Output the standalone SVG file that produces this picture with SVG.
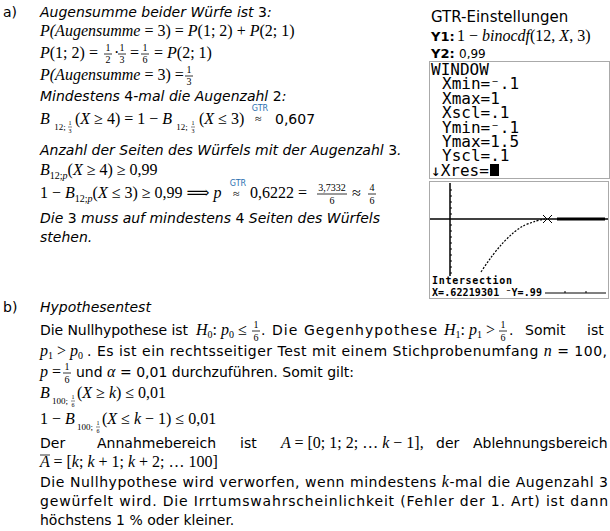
<svg xmlns="http://www.w3.org/2000/svg" width="610" height="531" viewBox="0 0 610 531">
<style>
.t{font-family:"DejaVu Sans",Verdana,sans-serif;font-size:14px;fill:#000}
.i{font-style:italic}
.m{font-family:"Liberation Serif","DejaVu Serif",serif;font-size:16px;font-style:italic;fill:#000}
.n{font-style:normal}
.f{font-family:"Liberation Serif",serif;font-size:10px;fill:#000;text-anchor:middle}
.g{font-family:"DejaVu Sans",sans-serif;font-size:8px;fill:#2a6fb0;text-anchor:middle}
.c{font-family:"DejaVu Sans Mono","Liberation Mono",monospace;font-size:16px;fill:#000}
.fl{stroke:#000;stroke-width:0.8}
</style>
<rect width="610" height="531" fill="#fff"/>
<g id="part-a">
<text class="t" x="3" y="17">a)</text>
<text class="t i" x="40" y="17">Augensumme beider Würfe ist <tspan class="n">3</tspan>:</text>
<text class="m" x="40" y="36">P(Augensumme <tspan class="n">= 3) =</tspan> P<tspan class="n">(1; 2) +</tspan> P<tspan class="n">(2; 1)</tspan></text>
<text class="m" x="40" y="58">P<tspan class="n">(1; 2) =</tspan></text>
<text class="f" x="108" y="51">1</text><line class="fl" x1="104" y1="54" x2="112" y2="54"/><text class="f" x="108" y="63">2</text>
<text class="m n" x="114" y="58">·</text>
<text class="f" x="122" y="51">1</text><line class="fl" x1="118" y1="54" x2="126" y2="54"/><text class="f" x="122" y="63">3</text>
<text class="m n" x="130" y="58">=</text>
<text class="f" x="145" y="51">1</text><line class="fl" x1="141" y1="54" x2="149" y2="54"/><text class="f" x="145" y="63">6</text>
<text class="m" x="154" y="58"><tspan class="n">=</tspan> P<tspan class="n">(2; 1)</tspan></text>
<text class="m" x="40" y="80">P(Augensumme <tspan class="n">= 3) =</tspan></text>
<text class="f" x="189" y="73">1</text><line class="fl" x1="185" y1="76" x2="193" y2="76"/><text class="f" x="189" y="85">3</text>
<text class="t i" x="40" y="101">Mindestens <tspan class="n">4</tspan>-mal die Augenzahl <tspan class="n">2</tspan>:</text>
<text class="m" x="40" y="124">B</text>
<text class="f" x="60" y="130" style="font-size:9px">12;</text>
<text class="f" x="70" y="125" style="font-size:6px">1</text><line class="fl" x1="68" y1="127" x2="72" y2="127" style="stroke-width:0.5"/><text class="f" x="70" y="133" style="font-size:6px">3</text>
<text class="m" x="75" y="124"><tspan class="n">(</tspan>X <tspan class="n">≥ 4) = 1 −</tspan> B</text>
<text class="f" x="182" y="130" style="font-size:9px">12;</text>
<text class="f" x="193" y="125" style="font-size:6px">1</text><line class="fl" x1="191" y1="127" x2="195" y2="127" style="stroke-width:0.5"/><text class="f" x="193" y="133" style="font-size:6px">3</text>
<text class="m" x="199" y="124"><tspan class="n">(</tspan>X <tspan class="n">≤ 3)</tspan></text>
<text class="g" x="260" y="111">GTR</text>
<text class="m n" x="255" y="123" style="font-size:12px">≈</text>
<text class="t" x="275" y="124">0,607</text>
<text class="t i" x="40" y="155">Anzahl der Seiten des Würfels mit der Augenzahl <tspan class="n">3</tspan>.</text>
<text class="m" x="40" y="175">B<tspan class="n" style="font-size:10px" dy="4">12;</tspan><tspan style="font-size:10px">p</tspan><tspan dy="-4" class="n">(</tspan>X <tspan class="n">≥ 4) ≥ 0,99</tspan></text>
<text class="m" x="40" y="198"><tspan class="n">1 −</tspan> B<tspan class="n" style="font-size:10px" dy="4">12;</tspan><tspan style="font-size:10px">p</tspan><tspan dy="-4" class="n">(</tspan>X <tspan class="n">≤ 3) ≥ 0,99 ⟹</tspan>  p</text>
<text class="g" x="238" y="186">GTR</text>
<text class="m n" x="233" y="198" style="font-size:12px">≈</text>
<text class="m n" x="250" y="198">0,6222 =</text>
<text class="f" x="332" y="191">3,7332</text><line class="fl" x1="317" y1="194" x2="347" y2="194"/><text class="f" x="332" y="204">6</text>
<text class="m n" x="352" y="198">≈</text>
<text class="f" x="372" y="191">4</text><line class="fl" x1="368" y1="194" x2="376" y2="194"/><text class="f" x="372" y="204">6</text>
<text class="t i" x="40" y="223">Die <tspan class="n">3</tspan> muss auf mindestens <tspan class="n">4</tspan> Seiten des Würfels</text>
<text class="t i" x="40" y="242">stehen.</text>
</g>
<g id="calculator">
<text class="t" x="431" y="22" style="font-size:15px">GTR-Einstellungen</text>
<text class="t" x="431" y="41" style="font-weight:bold;font-size:13px">Y1:</text>
<text class="m n" x="457" y="41">1 − <tspan class="i">binocdf</tspan>(12, <tspan class="i">X</tspan>, 3)</text>
<text class="t" x="431" y="58" style="font-weight:bold;font-size:13px">Y2:</text>
<text class="t" x="459" y="58" style="font-size:12px">0,99</text>
<rect x="429.5" y="61.5" width="180" height="117" fill="#fff" stroke="#aaa"/>
<text class="c" x="431" y="75">WINDOW</text>
<text class="c" x="442" y="89.4">Xmin=⁻.1</text>
<text class="c" x="442" y="103.8">Xmax=1</text>
<text class="c" x="442" y="118.2">Xscl=.1</text>
<text class="c" x="442" y="132.6">Ymin=⁻.1</text>
<text class="c" x="442" y="147">Ymax=1.5</text>
<text class="c" x="442" y="161.4">Yscl=.1</text>
<text class="c" x="431" y="175.8">↓Xres=</text>
<rect x="490" y="164" width="9" height="12" fill="#000"/>
<rect x="429.5" y="181.5" width="179" height="117" fill="#fff" stroke="#aaa"/>
<line x1="430" y1="219" x2="608" y2="219" stroke="#000" stroke-width="1.5"/>
<line x1="450" y1="183" x2="450" y2="276" stroke="#000" stroke-width="1.5"/>
<path d="M450 190h2M450 196h2M450 202h2M450 208h2M450 214h2M450 225h2M450 231h2M450 237h2M450 243h2M450 249h2M450 255h2M450 261h2M450 267h2M450 273h2" stroke="#000"/>
<path d="M481 272 Q505 235 525 225 Q538 220 545 219" fill="none" stroke="#000" stroke-width="1.2" stroke-dasharray="2 1.5"/>
<path d="M543 215 l4 4 l-4 4 M552 215 l-4 4 l4 4" fill="none" stroke="#000"/>
<line x1="557" y1="219" x2="605" y2="219" stroke="#000" stroke-width="3"/>
<text style="font-family:'DejaVu Sans Mono',monospace;font-size:10px;font-weight:bold" x="432" y="284" textLength="80">Intersection</text>
<text style="font-family:'DejaVu Sans Mono',monospace;font-size:10px;font-weight:bold" x="432" y="296" textLength="110">X=.62219301 ⁻Y=.99</text>
<line x1="545" y1="293" x2="606" y2="293" stroke="#000"/>
<path d="M565 291v2M586 291v2" stroke="#000"/>
</g>
<g id="part-b">
<text class="t" x="3" y="312">b)</text>
<text class="t i" x="40" y="312">Hypothesentest</text>
<text class="t" x="40" y="335" textLength="148">Die Nullhypothese ist</text>
<text class="m" x="196" y="335">H<tspan class="n" style="font-size:10px" dy="3">0</tspan><tspan dy="-3" class="n">:</tspan> p<tspan class="n" style="font-size:10px" dy="3">0</tspan><tspan dy="-3" class="n"> ≤</tspan></text>
<text class="f" x="256" y="328">1</text><line class="fl" x1="252" y1="331" x2="260" y2="331"/><text class="f" x="256" y="341">6</text>
<text class="t" x="261" y="335" textLength="176">. Die Gegenhypothese</text>
<text class="m" x="444" y="335">H<tspan class="n" style="font-size:10px" dy="3">1</tspan><tspan dy="-3" class="n">:</tspan> p<tspan class="n" style="font-size:10px" dy="3">1</tspan><tspan dy="-3" class="n"> &gt;</tspan></text>
<text class="f" x="503" y="328">1</text><line class="fl" x1="499" y1="331" x2="507" y2="331"/><text class="f" x="503" y="341">6</text>
<text class="t" x="509" y="335">.</text>
<text class="t" x="525" y="335">Somit</text>
<text class="t" x="587" y="335">ist</text>
<text class="m" x="40" y="356">p<tspan class="n" style="font-size:10px" dy="3">1</tspan><tspan dy="-3" class="n"> &gt; </tspan>p<tspan class="n" style="font-size:10px" dy="3">0</tspan></text>
<text class="t" x="87" y="356" textLength="520">. Es ist ein rechtsseitiger Test mit einem Stichprobenumfang <tspan class="m">n</tspan> = 100,</text>
<text class="m" x="40" y="377">p <tspan class="n">=</tspan></text>
<text class="f" x="67" y="370">1</text><line class="fl" x1="63" y1="373" x2="71" y2="373"/><text class="f" x="67" y="383">6</text>
<text class="t" x="76" y="377">und <tspan class="m">α</tspan> = 0,01 durchzuführen. Somit gilt:</text>
<text class="m" x="40" y="398">B</text>
<text class="f" x="60" y="404" style="font-size:9px">100;</text>
<text class="f" x="73" y="399" style="font-size:6px">1</text><line class="fl" x1="71" y1="401" x2="75" y2="401" style="stroke-width:0.5"/><text class="f" x="73" y="407" style="font-size:6px">6</text>
<text class="m" x="77" y="398"><tspan class="n">(</tspan>X <tspan class="n">≥</tspan> k<tspan class="n">) ≤ 0,01</tspan></text>
<text class="m" x="40" y="424"><tspan class="n">1 −</tspan> B</text>
<text class="f" x="85" y="430" style="font-size:9px">100;</text>
<text class="f" x="98" y="425" style="font-size:6px">1</text><line class="fl" x1="96" y1="427" x2="100" y2="427" style="stroke-width:0.5"/><text class="f" x="98" y="433" style="font-size:6px">6</text>
<text class="m" x="102" y="424"><tspan class="n">(</tspan>X <tspan class="n">≤</tspan> k <tspan class="n">− 1) ≤ 0,01</tspan></text>
<text class="t" x="40" y="448">Der</text>
<text class="t" x="97" y="448">Annahmebereich</text>
<text class="t" x="240" y="448">ist</text>
<text class="m" x="281" y="448">A <tspan class="n">= [0; 1; 2; …</tspan> k <tspan class="n">− 1],</tspan></text>
<text class="t" x="436" y="448">der</text>
<text class="t" x="473" y="448">Ablehnungsbereich</text>
<line x1="40" y1="455" x2="50" y2="455" stroke="#000" stroke-width="0.8"/>
<text class="m" x="40" y="467">A <tspan class="n">= [</tspan>k<tspan class="n">; </tspan>k <tspan class="n">+ 1; </tspan>k <tspan class="n">+ 2; … 100]</tspan></text>
<text class="t" x="40" y="487" textLength="568">Die Nullhypothese wird verworfen, wenn mindestens <tspan class="m">k</tspan>-mal die Augenzahl 3</text>
<text class="t" x="40" y="506" textLength="568">gewürfelt wird. Die Irrtumswahrscheinlichkeit (Fehler der 1. Art) ist dann</text>
<text class="t" x="40" y="525">höchstens 1 % oder kleiner.</text>
</g>
</svg>
